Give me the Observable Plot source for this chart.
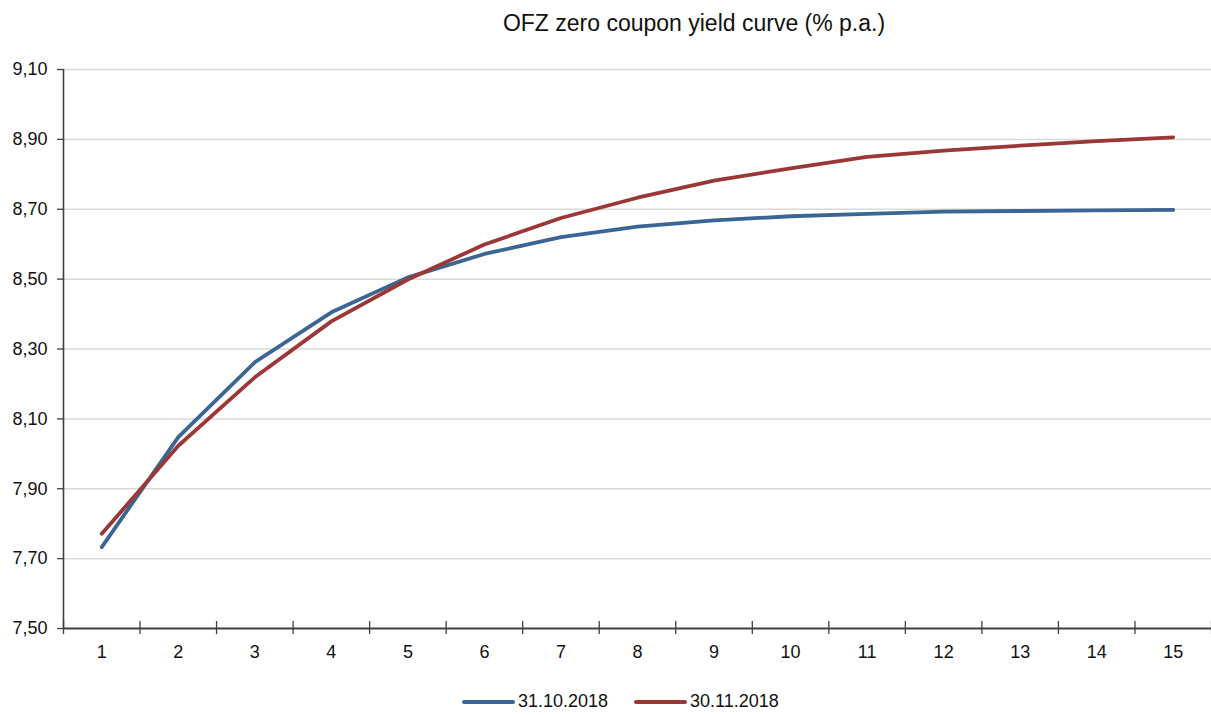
<!DOCTYPE html>
<html>
<head>
<meta charset="utf-8">
<script src="https://cdn.jsdelivr.net/npm/d3@7"></script>
<script src="https://cdn.jsdelivr.net/npm/@observablehq/plot@0.6"></script>
<style>
  html, body { margin: 0; padding: 0; background: #fff; }
  body { width: 1211px; height: 715px; position: relative; overflow: hidden; font-family: "Liberation Sans", Arial, sans-serif; color: #111; }
  #title { position: absolute; top: 10px; left: 494px; width: 400px; text-align: center; font-size: 23px; white-space: nowrap; z-index: 2; }
  #chart { position: absolute; top: 0; left: 0; z-index: 1; }
  #legend { position: absolute; top: 691px; left: 0; width: 1211px; font-size: 18px; z-index: 2; }
  .item { position: absolute; display: flex; align-items: center; white-space: nowrap; }
  .swatch { width: 53px; height: 4px; border-radius: 2px; margin-right: 3px; }
</style>
</head>
<body>
<div id="chart"></div>
<div id="title">OFZ zero coupon yield curve (% p.a.)</div>
<div id="legend"></div>
<script>
// Data
const maturities = [1, 2, 3, 4, 5, 6, 7, 8, 9, 10, 11, 12, 13, 14, 15];
const seriesNames = ["31.10.2018", "30.11.2018"];
const seriesColors = ["#3a6595", "#9b3836"];
const oct2018 = [7.733, 8.048, 8.262, 8.405, 8.505, 8.572, 8.620, 8.650, 8.668, 8.680, 8.687, 8.693, 8.695, 8.697, 8.698];
const nov2018 = [7.771, 8.023, 8.219, 8.379, 8.499, 8.599, 8.675, 8.733, 8.782, 8.817, 8.850, 8.868, 8.882, 8.895, 8.906];
const yTicks = [7.5, 7.7, 7.9, 8.1, 8.3, 8.5, 8.7, 8.9, 9.1];

const data = [];
maturities.forEach((m, i) => data.push({m, v: oct2018[i], s: seriesNames[0]}));
maturities.forEach((m, i) => data.push({m, v: nov2018[i], s: seriesNames[1]}));
const bounds = [maturities[0] - 0.5, ...maturities.map(m => m + 0.5)];

const axisColor = "#404040";
const chart = Plot.plot({
  width: 1211,
  height: 670,
  marginTop: 69,
  marginBottom: 42,
  marginLeft: 63,
  marginRight: 0,
  style: {fontFamily: "'Liberation Sans', Arial, sans-serif", fontSize: "18px", color: "#111", background: "transparent"},
  x: {domain: [bounds[0], bounds[bounds.length - 1]]},
  y: {domain: [yTicks[0], yTicks[yTicks.length - 1]]},
  color: {domain: seriesNames, range: seriesColors},
  marks: [
    Plot.gridY(yTicks.slice(1), {stroke: "#d9d9d9", strokeOpacity: 1, strokeWidth: 1.5}),
    Plot.axisY(yTicks, {tickSize: 6, tickPadding: 10, fontSize: 18, stroke: axisColor, strokeWidth: 1.3,
      tickFormat: d => d.toFixed(2).replace(".", ","), label: null}),
    Plot.axisX(bounds, {tickSize: 13, dy: -7, stroke: axisColor, strokeWidth: 1.3, tickFormat: () => "", label: null}),
    Plot.axisX(maturities, {tickSize: 0, tickPadding: 17, fontSize: 18, tickFormat: d => String(d), label: null}),
    Plot.ruleX([bounds[0]], {stroke: axisColor, strokeWidth: 1.6}),
    Plot.ruleY([yTicks[0]], {stroke: axisColor, strokeWidth: 1.8}),
    Plot.line(data, {x: "m", y: "v", z: "s", stroke: "s", strokeWidth: 3.8, strokeLinecap: "round", strokeLinejoin: "round"})
  ]
});
document.getElementById("chart").appendChild(chart);

const legend = document.getElementById("legend");
const lefts = [462, 634];
seriesNames.forEach((name, i) => {
  const item = document.createElement("div");
  item.className = "item";
  item.style.left = lefts[i] + "px";
  const sw = document.createElement("div");
  sw.className = "swatch";
  sw.style.background = seriesColors[i];
  const label = document.createElement("span");
  label.textContent = name;
  item.appendChild(sw);
  item.appendChild(label);
  legend.appendChild(item);
});
</script>
</body>
</html>
